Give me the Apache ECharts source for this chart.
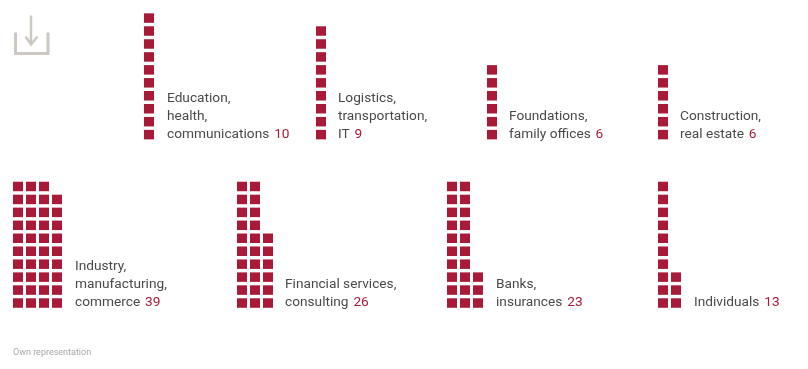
<!DOCTYPE html>
<html>
<head>
<meta charset="utf-8">
<style>
html, body { margin: 0; padding: 0; background: #fff; }
#chart { width: 808px; height: 369px; }
</style>
<script src="https://cdn.jsdelivr.net/npm/echarts@6/dist/echarts.min.js"></script>
</head>
<body>
<div id="chart"></div>
<script>
const categories = [
    'Education,\nhealth,\ncommunications',
    'Logistics,\ntransportation,\nIT',
    'Foundations,\nfamily offices',
    'Construction,\nreal estate',
    'Industry,\nmanufacturing,\ncommerce',
    'Financial services,\nconsulting',
    'Banks,\ninsurances',
    'Individuals'
];
const counts = [10, 9, 6, 6, 39, 26, 23, 13];
const sourceNote = 'Own representation';

// layout of each block: left edge of the squares, bottom edge, left edge of the label
const blockLeft = [144, 316, 487, 658, 13, 237, 447, 658];
const blockBottom = [139.6, 139.6, 139.6, 139.6, 308, 308, 308, 308];
const labelLeft = [167, 338, 509, 680, 75, 285, 496, 694];

const PITCH = 12.95;
const RED = '#a81a38';
const TEXT = '#4a4a4a';
const ICON = '#cdc9c2';
const FONT = 'Roboto';

const grids = [], xAxes = [], yAxes = [], series = [], graphics = [];

categories.forEach(function (name, i) {
    const cols = Math.ceil(counts[i] / 10);
    const points = [];
    for (let n = 0; n < counts[i]; n++) {
        points.push([Math.floor(n / 10) + 0.5, n % 10 + 0.5]);
    }
    grids.push({
        left: blockLeft[i] - 1.5,
        top: blockBottom[i] + 1.5 - 10 * PITCH,
        width: cols * 13,
        height: 10 * PITCH
    });
    xAxes.push({ type: 'value', gridIndex: i, min: 0, max: cols, show: false });
    yAxes.push({ type: 'value', gridIndex: i, min: 0, max: 10, show: false });
    series.push({
        type: 'scatter',
        xAxisIndex: i,
        yAxisIndex: i,
        symbol: 'rect',
        symbolSize: [10, 9.5],
        silent: true,
        itemStyle: { color: RED, opacity: 1 },
        data: points
    });
    graphics.push({
        type: 'text',
        left: labelLeft[i],
        bottom: 369 - blockBottom[i] - 2,
        style: {
            text: name.split('\n').map(function (l) { return '{n|' + l + '}'; }).join('\n') + '{v| ' + counts[i] + '}',
            rich: {
                n: { font: '13.7px ' + FONT, fill: TEXT, lineHeight: 18 },
                v: { font: '13.7px ' + FONT, fill: RED, lineHeight: 18, padding: [0, 0, 0, 1.5] }
            }
        }
    });
});

// download icon
graphics.push({
    type: 'group',
    left: 13,
    top: 13,
    children: [
        { type: 'polyline', shape: { points: [[17, 0], [17, 29]] }, style: { stroke: ICON, lineWidth: 2.5, fill: null } },
        { type: 'polyline', shape: { points: [[11.5, 21], [17, 29], [23.5, 21]] }, style: { stroke: ICON, lineWidth: 2.5, fill: null } },
        { type: 'polyline', shape: { points: [[1.5, 17], [1.5, 38], [34, 38], [34, 17]] }, style: { stroke: ICON, lineWidth: 3, fill: null } }
    ]
});

graphics.push({
    type: 'text',
    left: 13,
    top: 348,
    style: { text: sourceNote, font: '9px ' + FONT, fill: '#a8a8a8' }
});

const chart = echarts.init(document.getElementById('chart'));
chart.setOption({
    animation: false,
    backgroundColor: '#fff',
    grid: grids,
    xAxis: xAxes,
    yAxis: yAxes,
    series: series,
    graphic: graphics
});
</script>
</body>
</html>
